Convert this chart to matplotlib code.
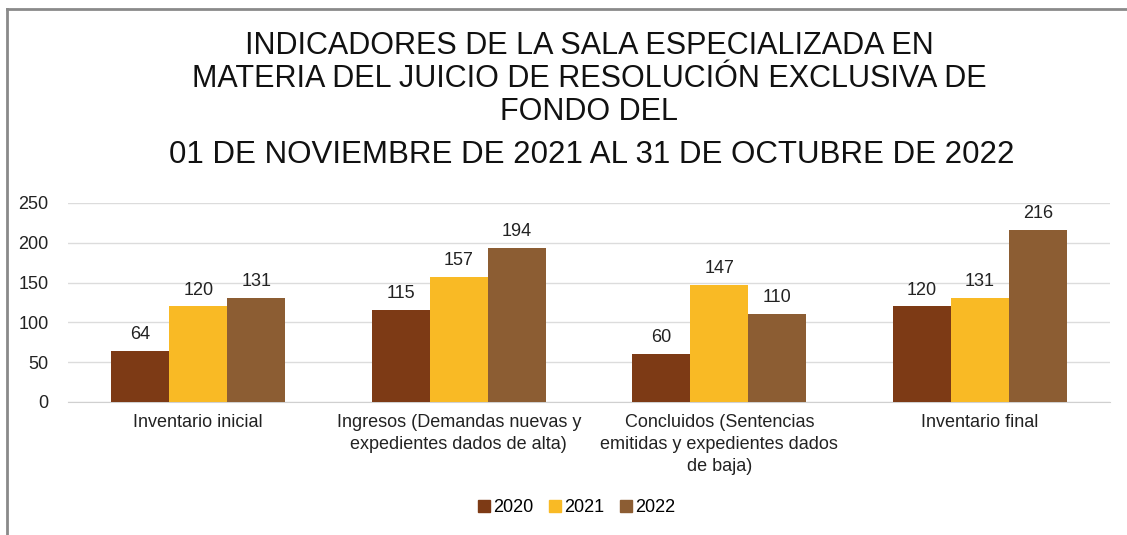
import matplotlib.pyplot as plt
import numpy as np
from matplotlib.lines import Line2D

plt.rcParams['font.family'] = ['Liberation Sans', 'DejaVu Sans']

categories = ['Inventario inicial',
              'Ingresos (Demandas nuevas y\nexpedientes dados de alta)',
              'Concluidos (Sentencias\nemitidas y expedientes dados\nde baja)',
              'Inventario final']
years = ['2020', '2021', '2022']
values_2020 = [64, 115, 60, 120]
values_2021 = [120, 157, 147, 131]
values_2022 = [131, 194, 110, 216]
colors = ['#7D3A15', '#F9BA25', '#8C5D33']

fig = plt.figure(figsize=(11.27, 5.35), dpi=100)
ax = fig.add_axes([0.0603, 0.2486, 0.9247, 0.372])

x = np.arange(len(categories))
w = 0.2227
series = [values_2020, values_2021, values_2022]
for i, (vals, c, yr) in enumerate(zip(series, colors, years)):
    bars = ax.bar(x + (i - 1) * w, vals, width=w, color=c, label=yr, zorder=3)
    for b, v in zip(bars, vals):
        ax.text(b.get_x() + b.get_width() / 2, v + 10, str(v), ha='center', va='bottom',
                fontsize=13, color='#222222')

ax.set_xlim(-0.5, 3.5)
ax.set_ylim(0, 250)
ax.set_yticks([0, 50, 100, 150, 200, 250])
ax.yaxis.grid(True, color='#dcdcdc', linewidth=1, zorder=0)
for s in ['top', 'right', 'left']:
    ax.spines[s].set_visible(False)
ax.spines['bottom'].set_color('#d0d0d0')
ax.tick_params(axis='both', length=0, labelsize=13, labelcolor='#222222')
ax.tick_params(axis='y', pad=14)
ax.set_xticks(x)
ax.set_xticklabels(categories, fontsize=13, linespacing=1.35, va='top')
ax.tick_params(axis='x', pad=9)

# title
title_lines = ['INDICADORES DE LA SALA ESPECIALIZADA EN',
               'MATERIA DEL JUICIO DE RESOLUCIÓN EXCLUSIVA DE',
               'FONDO DEL']
ys = [46, 79, 112]
for t, yy in zip(title_lines, ys):
    fig.text(589 / 1127, 1 - yy / 535, t, ha='center', va='center', fontsize=22, color='#111111')
fig.text(592 / 1127, 1 - 155 / 535, '01 DE NOVIEMBRE DE 2021 AL 31 DE OCTUBRE DE 2022',
         ha='center', va='center', fontsize=22.5, color='#111111')

handles = [Line2D([], [], marker='s', linestyle='', markersize=9, color=c) for c in colors]
fig.legend(handles, years, loc='center', bbox_to_anchor=(575 / 1127, 1 - 508 / 535), ncol=3,
           frameon=False, fontsize=13, handletextpad=0.0, columnspacing=0.7, handlelength=1)

# frame lines
fig.add_artist(Line2D([7 / 1127, 1], [1 - 9 / 535, 1 - 9 / 535], color='#8a8a8a', linewidth=2))
fig.add_artist(Line2D([7 / 1127, 7 / 1127], [0, 1 - 9 / 535], color='#8a8a8a', linewidth=2))

fig.savefig('out.png', dpi=100, facecolor='white')
